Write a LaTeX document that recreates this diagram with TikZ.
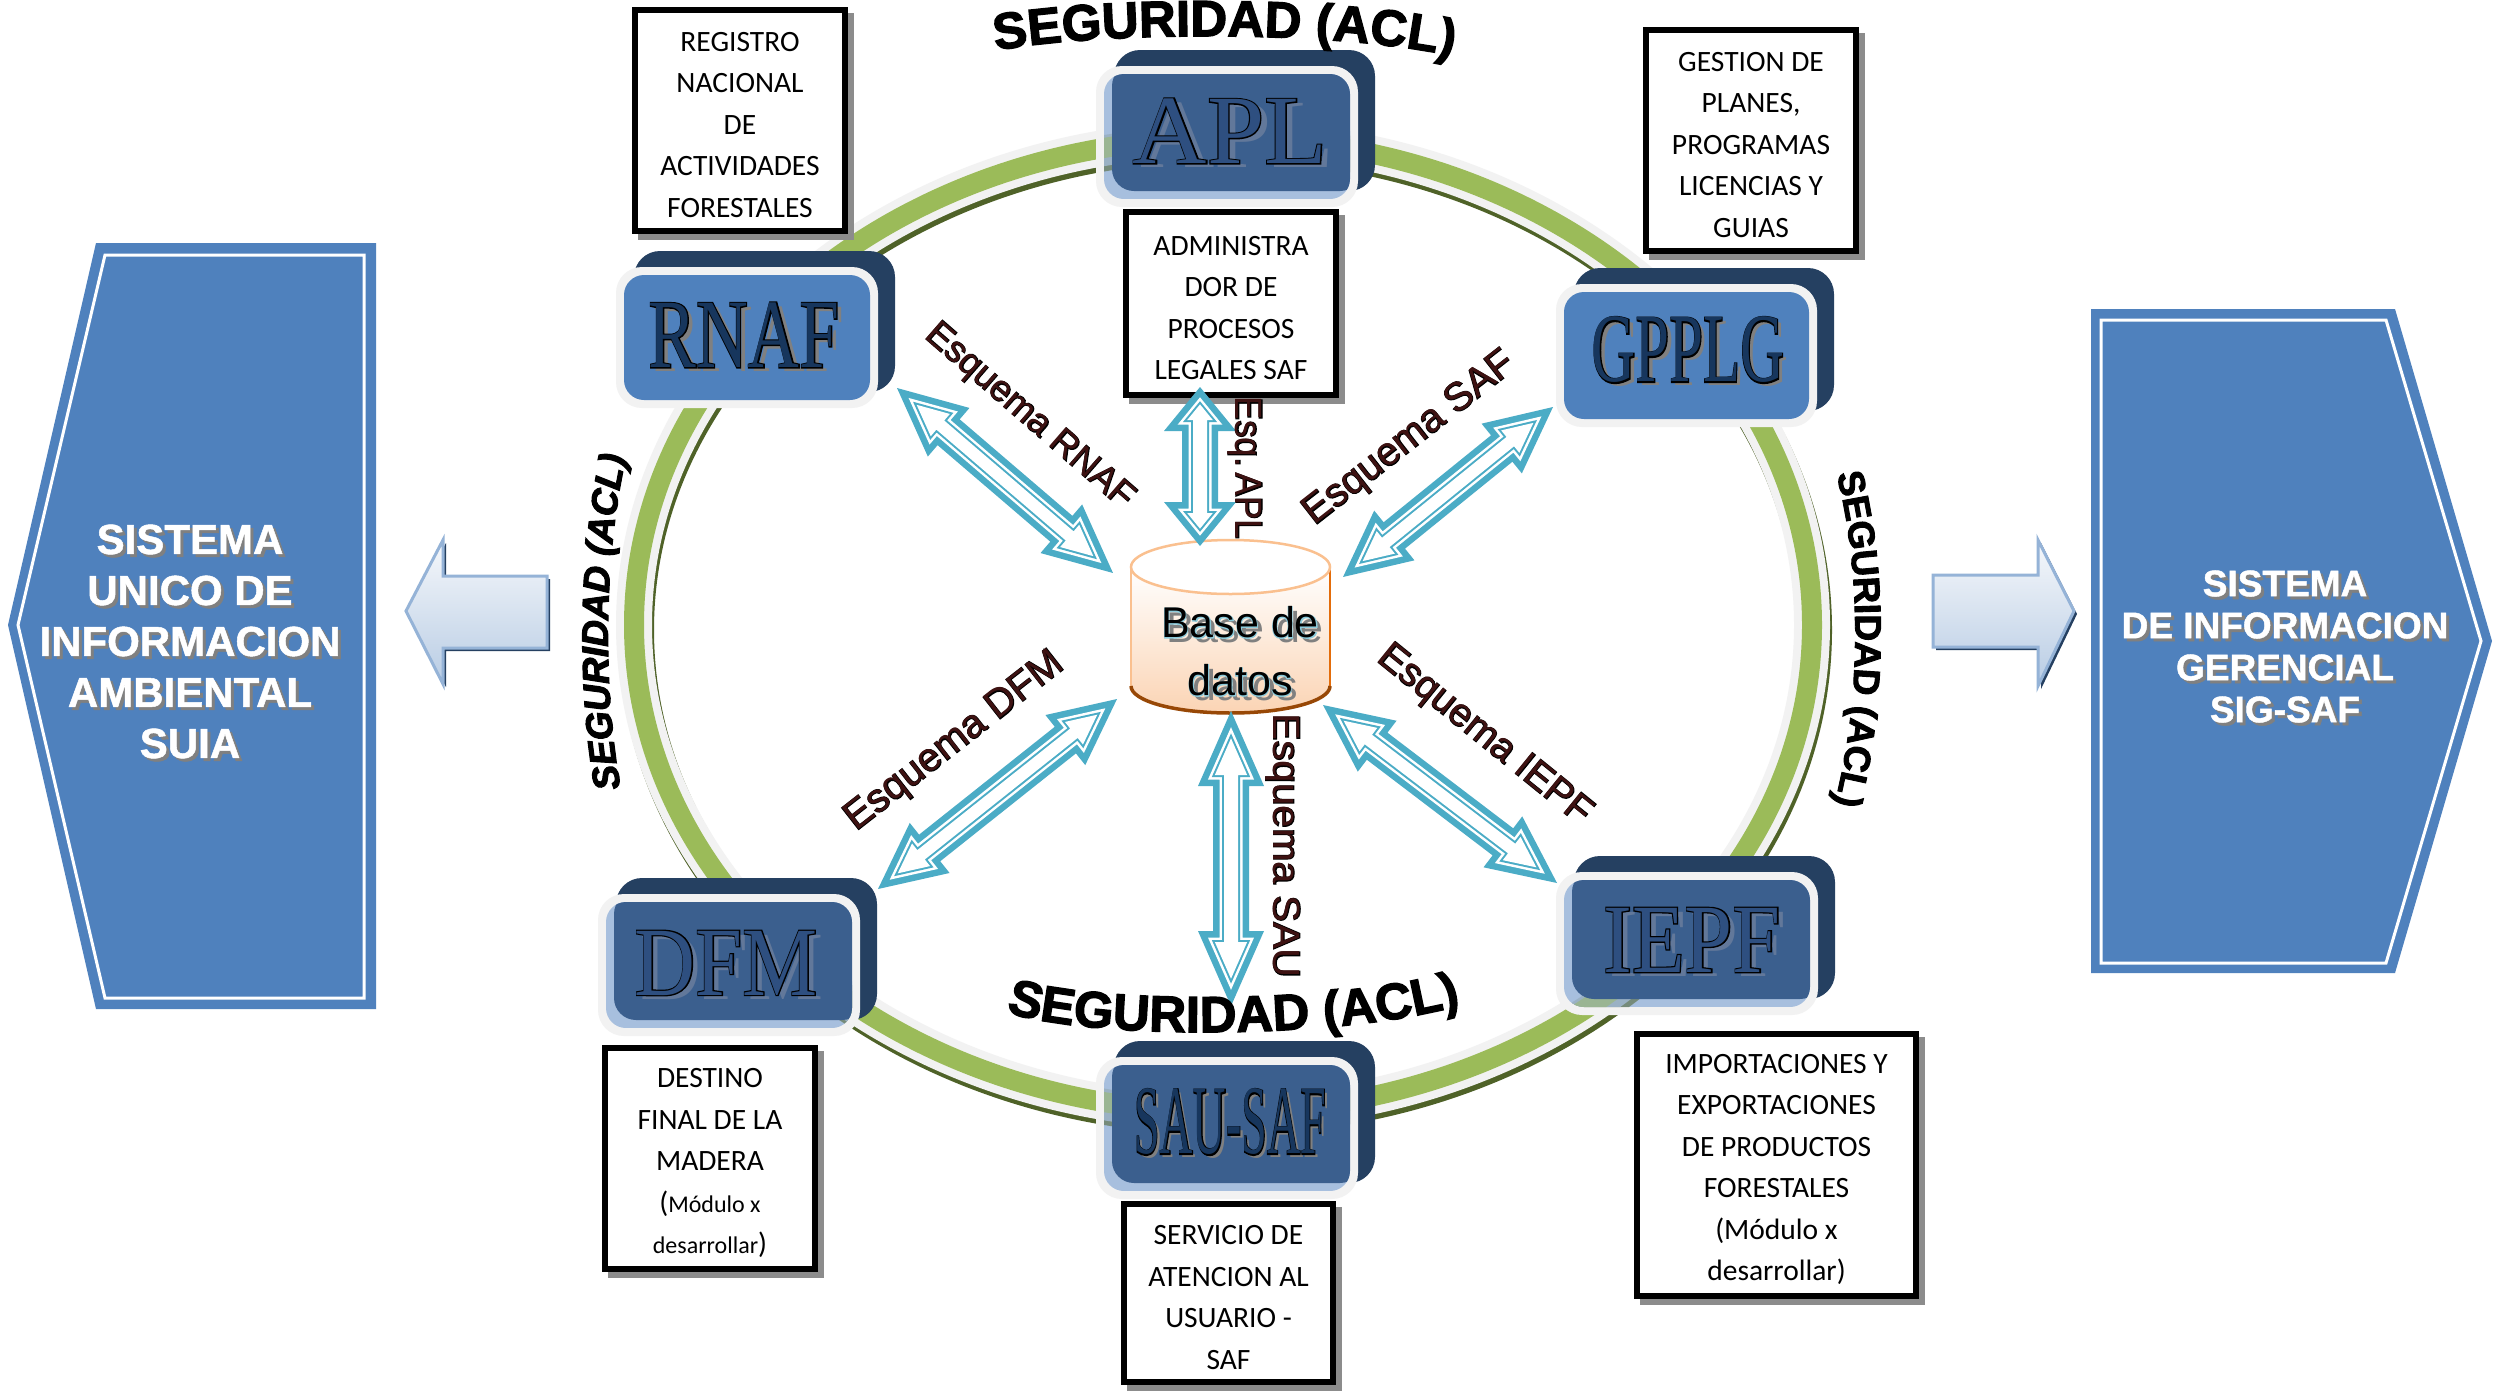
\documentclass[tikz,border=0pt]{standalone}
\usepackage{fontspec}
\usetikzlibrary{calc,decorations.text}
\newfontfamily\carl{Carlito}
\newfontfamily\lsr{Liberation Sans}
\newfontfamily\lsrf[FakeBold=3]{Liberation Sans}
\newfontfamily\lsbg[UprightFont=* Bold,FakeBold=1.2]{Liberation Sans}
\newfontfamily\lsbf[UprightFont=* Bold,FakeBold=2.5]{Liberation Sans}
\newfontfamily\lsbfi[UprightFont=* Bold Italic,FakeBold=3]{Liberation Sans}
\newfontfamily\srf{Liberation Serif}
\newfontfamily\srff[FakeBold=2.5]{Liberation Serif}
\definecolor{navyback}{HTML}{254061}
\definecolor{haloc}{HTML}{F2F2F2}
\definecolor{panelblue}{HTML}{4F81BD}
\definecolor{lightstrip}{HTML}{A7BFDE}
\definecolor{darkblue}{HTML}{3B5F8E}
\definecolor{ringgreen}{HTML}{9BBB59}
\definecolor{ringdark}{HTML}{4F6228}
\definecolor{teal}{HTML}{4BACC6}
\definecolor{labred}{HTML}{3E1212}
\definecolor{txtfillA}{HTML}{17365D}
\definecolor{txtfillB}{HTML}{2E4F80}
\definecolor{shade}{HTML}{808080}
\definecolor{shadeB}{HTML}{62789A}
\definecolor{peach}{HTML}{FBD4B4}
\definecolor{orangeline}{HTML}{E36C0A}
\definecolor{brownline}{HTML}{984806}
\definecolor{peachline}{HTML}{FAC08F}
\definecolor{boxshadow}{HTML}{8C8C8C}
\definecolor{barrowline}{HTML}{95B3D7}
\definecolor{barrowtop}{HTML}{F6F8FB}
\definecolor{barrowbot}{HTML}{B8CCE4}
\definecolor{dboutline}{HTML}{8DCBDB}
\tikzset{
  framebox/.style={draw=black,line width=6pt,fill=white,inner sep=0pt,outer sep=0pt},
  boxtext/.style={inner sep=0pt,outer sep=0pt,align=center,font=\carl\fontsize{29.5}{41.5}\selectfont},
  emblem/.style={inner sep=0pt,outer sep=0pt,font=\fontsize{98}{98}\selectfont},
  schema/.style={inner sep=0pt,outer sep=0pt,font=\fontsize{38}{38}\selectfont},
  paneltext/.style={inner sep=0pt,outer sep=0pt,align=center,text=white},
  blockarrow/.style={draw=barrowline,line width=3pt,line join=miter,top color=barrowtop,bottom color=barrowbot},
  segpath/.style={decorate,decoration={text along path,text align=center,text={#1}}}
}
\newcommand\segA{\fontsize{51}{51}\selectfont\lsbf}
\newcommand\segB{\fontsize{37}{37}\selectfont\lsbfi}
\newcommand\segC{\fontsize{37}{37}\selectfont\lsbf}
\newcommand\tbox[6]{%
  \pgfmathsetmacro\tcx{(#2+#4)/2}\pgfmathsetmacro\tcy{(#3+#5)/2}\pgfmathsetmacro\tcz{\tcy+4.5}%
  \pgfmathsetmacro\tw{#4-#2-6}\pgfmathsetmacro\th{#5-#3-6}%
  \pgfmathsetmacro\sl{#2+6}\pgfmathsetmacro\st{#3+6}\pgfmathsetmacro\sr{#4+6}\pgfmathsetmacro\sb{#5+6}%
  \fill[boxshadow] (\sl,\st) rectangle (\sr,\sb);
  \node[framebox,minimum width=\tw pt,minimum height=\th pt] (#1) at (\tcx,\tcy) {};
  \node[boxtext] (#1text) at (\tcx,\tcz) {#6};}
\newcommand\ringgreenpath{(1223,625) ellipse [x radius=589pt,y radius=487pt]}
\newcommand\ringdarkpath{(1225,630) ellipse [x radius=589pt,y radius=487pt]}
\newcommand\backhalo[4]{%
  \pgfmathsetmacro\bl{#1+18}\pgfmathsetmacro\bt{#2-16}\pgfmathsetmacro\br{#3+17}\pgfmathsetmacro\bb{#4-16}%
  \fill[navyback,rounded corners=26pt] (\bl,\bt) rectangle (\br,\bb);
  \fill[haloc,rounded corners=26pt] (#1,#2) rectangle (#3,#4);}
\newcommand\boxA[5]{%
  \backhalo{#2}{#3}{#4}{#5}%
  \pgfmathsetmacro\il{#2+8}\pgfmathsetmacro\it{#3+8}\pgfmathsetmacro\ir{#4-8}\pgfmathsetmacro\ib{#5-8}%
  \fill[panelblue,rounded corners=20pt] (\il,\it) rectangle (\ir,\ib);
  \coordinate (#1) at (\il,\it);}
\newcommand\boxB[5]{%
  \backhalo{#2}{#3}{#4}{#5}%
  \pgfmathsetmacro\il{#2+8}\pgfmathsetmacro\it{#3+8}\pgfmathsetmacro\ir{#4-8}\pgfmathsetmacro\ib{#5-8}%
  \pgfmathsetmacro\dl{\il+8}\pgfmathsetmacro\dr{\ir+12}\pgfmathsetmacro\db{\ib-8}\pgfmathsetmacro\dt{\it-10}%
  \begin{scope}
    \clip[rounded corners=20pt] (\il,\it) rectangle (\ir,\ib);
    \fill[lightstrip] (\il,\it) rectangle (\ir,\ib);
    \draw[ringdark,opacity=.55,line width=36pt] \ringdarkpath;
    \draw[lightstrip,opacity=.75,line width=36pt] \ringgreenpath;
    \draw[ringgreen,opacity=.45,line width=20pt] \ringgreenpath;
    \fill[darkblue,rounded corners=22pt] (\dl,\dt) rectangle (\dr,\db);
  \end{scope}
  \coordinate (#1) at (\il,\it);}
\newcommand\emb[4]{\scalebox{#1}[1]{\rlap{\hspace*{7pt}\raisebox{-4pt}{\color{#3}\srf #4}}\rlap{\color{black}\srff #4}{\color{#2}\srf #4}}}
\newcommand\wt[1]{\rlap{\hspace*{3pt}\raisebox{-3pt}{\color{shade}#1}}#1}
\newcommand\olab[1]{\rlap{\color{black}\lsrf #1}{\color{labred}\lsr #1}}
\newcommand\dbt[1]{\rlap{\hspace*{5pt}\raisebox{-5pt}{\color{shade}\lsr #1}}\rlap{\color{dboutline}\lsrf #1}{\color{black}\lsr #1}}
\newcommand\apoly[2]{%
  \pgfmathsetmacro\pt{#1/sin(atan(\aw/\ah))}%
  \pgfmathsetmacro\pb{\ah-#1}%
  \pgfmathsetmacro\pw{(\pb-\pt)*\aw/\ah}%
  \pgfmathsetmacro\ps{\as-#1}%
  \pgfmathsetmacro\pe{\len-\pt}%
  \pgfmathsetmacro\pf{\len-\pb}%
  \fill[#2] (\pt,0)--(\pb,\pw)--(\pb,\ps)--(\pf,\ps)--(\pf,\pw)--(\pe,0)--(\pf,-\pw)--(\pf,-\ps)--(\pb,-\ps)--(\pb,-\pw)--cycle;}
\newcommand\dbl[5]{%
  \path let \p1=($(#2)-(#1)$),\n1={atan2(\y1,\x1)},\n2={veclen(\x1,\y1)} in
    \pgfextra{\xdef\ang{\n1}\xdef\len{\n2}};
  \def\ah{#3}\def\aw{#4}\def\as{#5}%
  \begin{scope}[shift={(#1)},rotate=\ang]
    \apoly{0}{teal}\apoly{6.5}{white}\apoly{9}{teal}\apoly{11}{white}
  \end{scope}}
\begin{document}
\begin{tikzpicture}[x=1pt,y=-1pt]
\useasboundingbox (0,0) rectangle (2503,1390);
\fill[white] (0,0) rectangle (2503,1390);
% side panels
\fill[panelblue] (8,625)--(96,243)--(376,243)--(376,1009)--(96,1009)--cycle;
\draw[white,line width=3pt] (18,625)--(105,255)--(364,255)--(364,998)--(105,998)--cycle;
\fill[panelblue] (2091,309)--(2395,309)--(2492,641)--(2395,973)--(2091,973)--cycle;
\draw[white,line width=3pt] (2101,320)--(2386,320)--(2481,641)--(2386,963)--(2101,963)--cycle;
\node[paneltext,font=\fontsize{42}{51}\selectfont\lsbg] (suia) at (190,643)
  {\wt{SISTEMA}\\\wt{UNICO DE}\\\wt{INFORMACION}\\\wt{AMBIENTAL}\\\wt{SUIA}};
\node[paneltext,font=\fontsize{37}{42}\selectfont\lsbg] (sig) at (2285,648)
  {\wt{SISTEMA}\\\wt{DE INFORMACION}\\\wt{GERENCIAL}\\\wt{SIG-SAF}};
% block arrows
\fill[navyback] (409,614)--(446,543)--(446,579)--(550,579)--(550,651)--(446,651)--(446,687)--cycle;
\shadedraw[blockarrow]
  (406,611)--(443,540)--(443,576)--(547,576)--(547,648)--(443,648)--(443,684)--cycle;
\fill[navyback] (1936,578)--(2041,578)--(2041,543)--(2077,614)--(2041,689)--(2041,650)--(1936,650)--cycle;
\shadedraw[blockarrow]
  (1933,575)--(2038,575)--(2038,540)--(2074,611)--(2038,686)--(2038,647)--(1933,647)--cycle;
% ring
\draw[ringdark,line width=36pt] \ringdarkpath;
\draw[haloc,line width=36pt] \ringgreenpath;
\draw[ringgreen,line width=20pt] \ringgreenpath;
% emblems
\boxB{apl}{1096}{66}{1358}{207}
\boxA{rnaf}{616}{267}{878}{408}
\boxA{gpplg}{1556}{284}{1817}{427}
\boxB{dfm}{598}{894}{860}{1036}
\boxB{iepf}{1556}{872}{1818}{1015}
\boxB{sau}{1096}{1057}{1358}{1199}
\node[emblem] (taplname) at (1230,133) {\emb{1.05}{txtfillB}{shadeB}{APL}};
\node[emblem] (trnaf) at (744,337) {\emb{.73}{txtfillA}{shade}{RNAF}};
\node[emblem] (tgpplg) at (1688,352) {\emb{.62}{txtfillA}{shade}{GPPLG}};
\node[emblem] (tdfm) at (726,965) {\emb{.86}{txtfillB}{shadeB}{DFM}};
\node[emblem] (tiepf) at (1692,942) {\emb{.88}{txtfillB}{shadeB}{IEPF}};
\node[emblem] (tsau) at (1230,1124) {\emb{.47}{txtfillA}{shade}{SAU-SAF}};
% text boxes
\tbox{reg}{632}{7}{848}{234}{REGISTRO\\NACIONAL\\DE\\ACTIVIDADES\\FORESTALES}
\tbox{adm}{1123}{209}{1339}{398}{ADMINISTRA\\DOR DE\\PROCESOS\\LEGALES SAF}
\tbox{ges}{1643}{27}{1859}{254}{GESTION DE\\PLANES,\\PROGRAMAS\\LICENCIAS Y\\GUIAS}
\tbox{des}{602}{1045}{818}{1272}{DESTINO\\FINAL DE LA\\MADERA\\({\fontsize{24}{41.5}\selectfont Módulo x}\\{\fontsize{24}{41.5}\selectfont desarrollar})}
\tbox{ser}{1121}{1201}{1336}{1385}{SERVICIO DE\\ATENCION AL\\USUARIO -\\SAF}
\tbox{imp}{1634}{1031}{1919}{1299}{IMPORTACIONES Y\\EXPORTACIONES\\DE PRODUCTOS\\FORESTALES\\(Módulo x\\desarrollar)}
% database
\coordinate (dbtop) at (1230.5,540);
\coordinate (dbbot) at (1230.5,713);
\shade[top color=white,bottom color=peach]
  (1131,567)--(1131,686) .. controls (1131,701) and (1175,713) .. (dbbot)
  .. controls (1286,713) and (1330,701) .. (1330,686)--(1330,567)--cycle;
\draw[orangeline,line width=2.5pt] (1330,567)--(1330,686);
\draw[peachline,line width=2.5pt] (1131,567)--(1131,686);
\draw[brownline,line width=3.5pt] (1131,686) .. controls (1131,701) and (1175,713) .. (dbbot)
  .. controls (1286,713) and (1330,701) .. (1330,686);
\draw[peachline,line width=2.5pt,fill=white] (1131,567) .. controls (1131,552) and (1175,540) .. (dbtop)
  .. controls (1286,540) and (1330,552) .. (1330,567) .. controls (1330,582) and (1286,594) .. (1230.5,594)
  .. controls (1175,594) and (1131,582) .. (1131,567) -- cycle;
\node[inner sep=0pt,align=center,font=\fontsize{43}{58}\selectfont] (db) at (1240,654) {\dbt{Base de}\\\dbt{datos}};
% double arrows
\coordinate (a1) at (1200,387); \coordinate (a2) at (1200,546);
\coordinate (b1) at (1231,711); \coordinate (b2) at (1231,1006);
\coordinate (c1) at (897,388);  \coordinate (c2) at (1113,573);
\coordinate (d1) at (1553,407); \coordinate (d2) at (1343,577);
\coordinate (e1) at (878,889);  \coordinate (e2) at (1117,699);
\coordinate (f1) at (1557,883); \coordinate (f2) at (1323,705);
\dbl{a1}{a2}{44}{36}{18}
\dbl{b1}{b2}{75}{33}{18}
\dbl{c1}{c2}{68}{32}{17}
\dbl{d1}{d2}{66}{32}{17}
\dbl{e1}{e2}{66}{32}{17}
\dbl{f1}{f2}{68}{32}{17}
% schema labels
\node[schema,rotate=-41] (lrnaf) at (1029,417) {\scalebox{.96}{\olab{Esquema RNAF}}};
\node[schema,rotate=38]  (lsaf)  at (1410,439) {\scalebox{1.05}{\olab{Esquema SAF}}};
\node[schema,rotate=38]  (ldfm)  at (955,742)  {\scalebox{1.05}{\olab{Esquema DFM}}};
\node[schema,rotate=-39] (liepf) at (1484,736) {\scalebox{1.03}{\olab{Esquema IEPF}}};
\node[schema,rotate=-90] (lapl)  at (1245,468) {\scalebox{.92}[1]{\olab{Esq.\kern-4pt\ APL}}};
\node[schema,rotate=-90] (lsau)  at (1283,846) {\scalebox{1.06}[1]{\olab{Esquema SAU}}};
% ACL titles
\path[segpath={|\segA|SEGURIDAD (ACL)}] (988,52) .. controls (1098,30) and (1348,30) .. (1460,58);
\path[segpath={|\segA|SEGURIDAD (ACL)}] (1006,1012) .. controls (1091,1040) and (1341,1040) .. (1461,1005);
\path[segpath={|\segB|SEGURIDAD (ACL)}] (623,800) .. controls (602,700) and (602,550) .. (629,445);
\path[segpath={|\segC|SEGURIDAD (ACL)}] (1836,472) .. controls (1862,570) and (1862,700) .. (1834,806);
\end{tikzpicture}
\end{document}
